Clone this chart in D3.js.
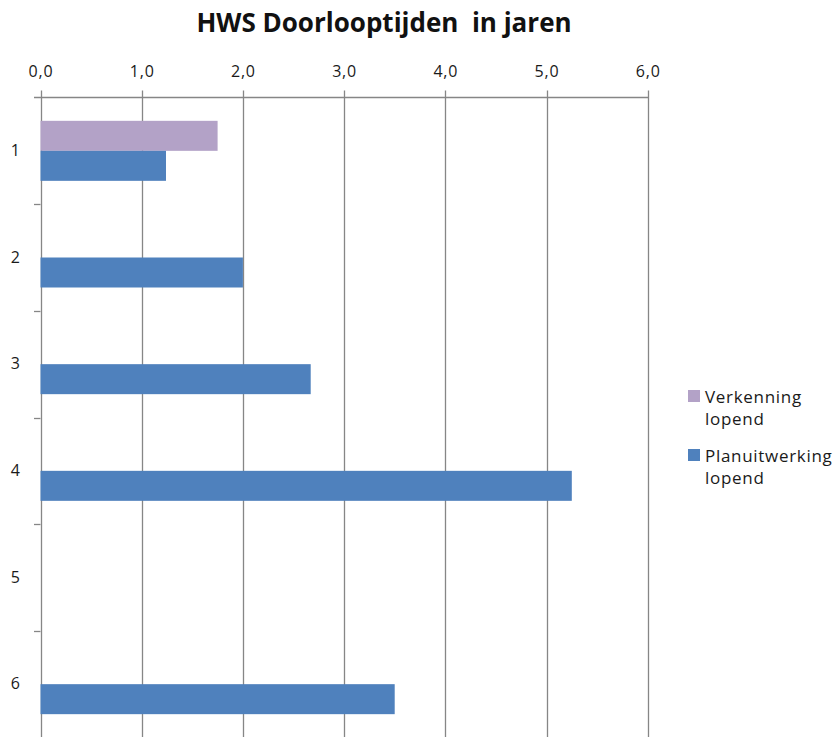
<!DOCTYPE html>
<html>
<head>
<meta charset="utf-8">
<script src="https://cdn.jsdelivr.net/npm/d3@7/dist/d3.min.js"></script>
<style>
  html, body { margin: 0; padding: 0; background: #fff; }
  svg { display: block; font-family: "Open Sans", "DejaVu Sans", sans-serif; }
</style>
</head>
<body>
<svg id="chart" width="835" height="737"></svg>
<script>
const titleText = "HWS Doorlooptijden\u00a0 in jaren";
const categories = ["1", "2", "3", "4", "5", "6"];
const seriesNames = ["Verkenning lopend", "Planuitwerking lopend"];
const verkenning = [1.75, null, null, null, null, null];
const planuitwerking = [1.24, 2.0, 2.67, 5.25, null, 3.5];
const xTicks = [0, 1, 2, 3, 4, 5, 6];
const colors = ["#B3A2C7", "#4F81BD"];

const seriesValues = [verkenning, planuitwerking];

const svg = d3.select("#chart");
const W = 835, H = 737;
const plotLeft = 40.5, plotRight = 647.7, plotTop = 97.5, plotBottom = 737.5;

const x = d3.scaleLinear().domain([0, 6]).range([plotLeft, plotRight]);
const y = d3.scaleBand().domain(categories).range([plotTop, plotBottom]).padding(0);
const inner = d3.scaleBand().domain(seriesNames)
  .range([y.bandwidth() * 0.21875, y.bandwidth() * 0.78125]).padding(0);

const gridColor = "#868686";
const textColor = "#1a1a1a";

// vertical gridlines (with small tick above the axis)
svg.append("g").selectAll("line").data(xTicks).join("line")
  .attr("x1", d => Math.round(x(d)) + 0.5).attr("x2", d => Math.round(x(d)) + 0.5)
  .attr("y1", plotTop - 7).attr("y2", H)
  .attr("stroke", gridColor).attr("stroke-width", 1.3);

// top axis line
svg.append("line")
  .attr("x1", plotLeft - 6.5).attr("x2", Math.round(x(6)) + 0.5)
  .attr("y1", plotTop).attr("y2", plotTop)
  .attr("stroke", gridColor).attr("stroke-width", 1.3);

// top tick labels
svg.append("g").selectAll("text").data(xTicks).join("text")
  .attr("x", d => x(d) + 0.5).attr("y", 77)
  .attr("text-anchor", "middle")
  .attr("font-size", 16).attr("letter-spacing", 0.8).attr("fill", textColor)
  .text(d => d3.format(".1f")(d).replace(".", ","));

// category tick marks at band boundaries
svg.append("g").selectAll("line").data(categories.slice(1)).join("line")
  .attr("x1", plotLeft - 6.5).attr("x2", plotLeft)
  .attr("y1", d => Math.round(y(d)) + 0.5).attr("y2", d => Math.round(y(d)) + 0.5)
  .attr("stroke", gridColor).attr("stroke-width", 1.3);

// category labels
svg.append("g").selectAll("text").data(categories).join("text")
  .attr("x", 20).attr("y", d => y(d) + y.bandwidth() / 2 + 5)
  .attr("text-anchor", "end")
  .attr("font-size", 16).attr("fill", textColor)
  .text(d => d);

// bars
seriesNames.forEach((name, si) => {
  const data = categories.map((c, i) => ({ c, v: seriesValues[si][i] })).filter(d => d.v != null);
  svg.append("g").selectAll("rect").data(data).join("rect")
    .attr("x", x(0))
    .attr("y", d => y(d.c) + inner(name))
    .attr("width", d => x(d.v) - x(0))
    .attr("height", inner.bandwidth())
    .attr("fill", colors[si]);
});

// title
svg.append("text")
  .attr("x", 384).attr("y", 32)
  .attr("text-anchor", "middle")
  .attr("font-size", 26).attr("font-weight", "bold").attr("fill", "#111")
  .text(titleText);

// legend
const legendLines = [["Verkenning", "lopend"], ["Planuitwerking", "lopend"]];
const legend = svg.append("g");
seriesNames.forEach((name, i) => {
  const gy = 403 + i * 59;
  legend.append("rect")
    .attr("x", 688).attr("y", gy - 13).attr("width", 12).attr("height", 12)
    .attr("fill", colors[i]);
  const t = legend.append("text").attr("x", 705).attr("y", gy)
    .attr("font-size", 17).attr("letter-spacing", 0.7).attr("fill", textColor);
  legendLines[i].forEach((ln, j) => {
    t.append("tspan").attr("x", 705).attr("dy", j === 0 ? 0 : 22).text(ln);
  });
});
</script>
</body>
</html>
